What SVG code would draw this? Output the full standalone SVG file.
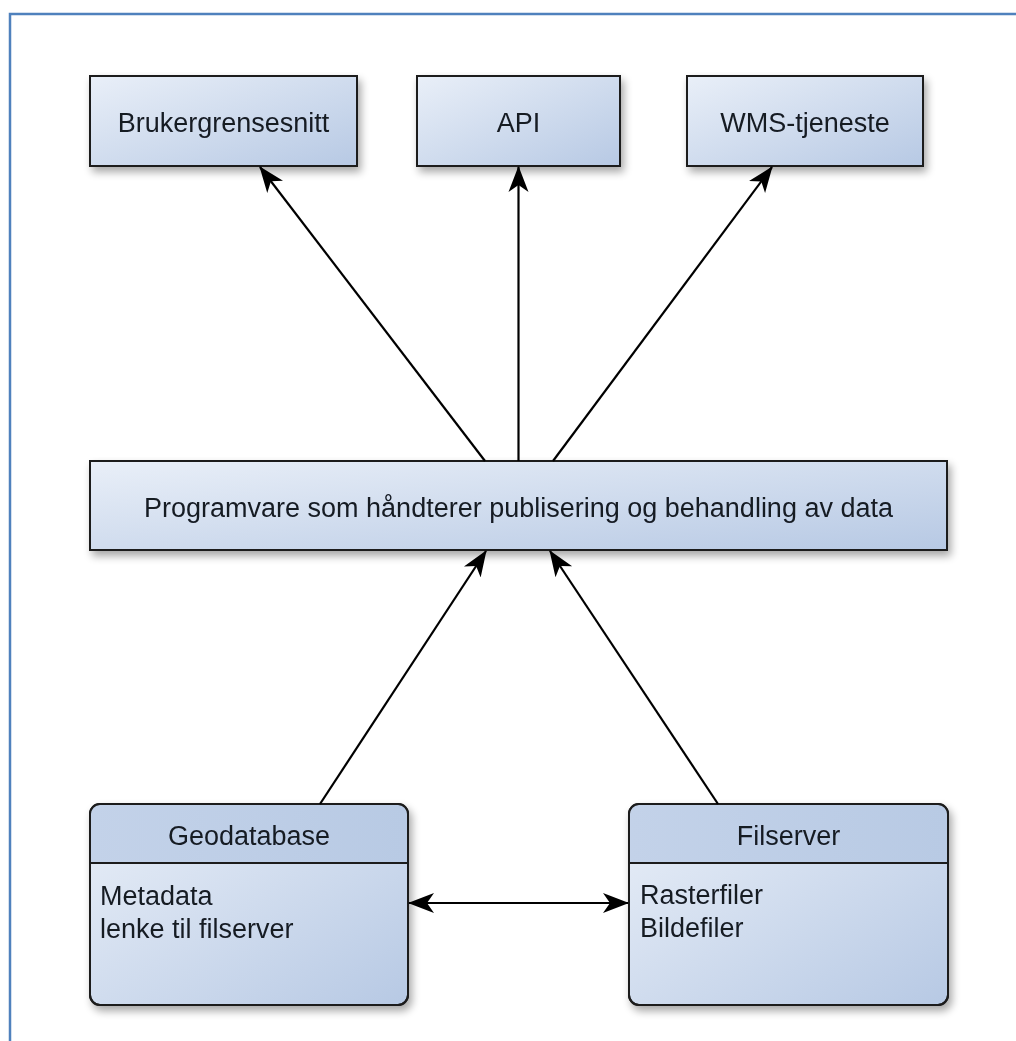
<svg xmlns="http://www.w3.org/2000/svg" width="1016" height="1041" viewBox="0 0 1016 1041">
  <defs>
    <linearGradient id="boxfill" x1="0" y1="0" x2="1" y2="1">
      <stop offset="0" stop-color="#e9eff8"/>
      <stop offset="1" stop-color="#b7c9e4"/>
    </linearGradient>
    <linearGradient id="headfill" x1="0" y1="0" x2="1" y2="0">
      <stop offset="0" stop-color="#c3d2e9"/>
      <stop offset="1" stop-color="#b8cae4"/>
    </linearGradient>
    <filter id="shadow" x="-10%" y="-10%" width="130%" height="140%">
      <feGaussianBlur in="SourceAlpha" stdDeviation="4"/>
      <feOffset dx="3" dy="5" result="b"/>
      <feComponentTransfer><feFuncA type="linear" slope="0.35"/></feComponentTransfer>
      <feMerge><feMergeNode/><feMergeNode in="SourceGraphic"/></feMerge>
    </filter>
    <marker id="arrow" viewBox="0 0 26 22" refX="25" refY="11" markerWidth="26" markerHeight="22" markerUnits="userSpaceOnUse" orient="auto-start-reverse">
      <path d="M0,1 L26,11 L0,21 L7,11 Z" fill="#000"/>
    </marker>
  </defs>
  <style>
    .box { fill: url(#boxfill); stroke: #1c1c1c; stroke-width: 2; }
    .head { fill: url(#headfill); }
    .sep { stroke: #1c1c1c; stroke-width: 2; fill: none; }
    .outline { fill: none; stroke: #1c1c1c; stroke-width: 2; }
    .lbl { font-family: "Liberation Sans", Arial, sans-serif; font-size: 27px; fill: #151a24; }
    .mid { text-anchor: middle; }
    .conn { stroke: #000; stroke-width: 2.2; fill: none; marker-end: url(#arrow); }
  </style>
  <rect width="1016" height="1041" fill="#ffffff"/>
  <path d="M10,1041 L10,14 L1016,14" fill="none" stroke="#4f81bd" stroke-width="2.5"/>

  <g id="brukergrensesnitt" filter="url(#shadow)">
    <rect class="box" x="90" y="76" width="267" height="90"/>
    <text class="lbl mid" x="223.5" y="131.5">Brukergrensesnitt</text>
  </g>
  <g id="api" filter="url(#shadow)">
    <rect class="box" x="417" y="76" width="203" height="90"/>
    <text class="lbl mid" x="518.5" y="131.5">API</text>
  </g>
  <g id="wms" filter="url(#shadow)">
    <rect class="box" x="687" y="76" width="236" height="90"/>
    <text class="lbl mid" x="805" y="131.5">WMS-tjeneste</text>
  </g>
  <g id="programvare" filter="url(#shadow)">
    <rect class="box" x="90" y="461" width="857" height="89"/>
    <text class="lbl mid" x="518.5" y="516.5">Programvare som håndterer publisering og behandling av data</text>
  </g>
  <g id="geodatabase" filter="url(#shadow)">
    <rect class="box" x="90" y="804" width="318" height="201" rx="10" ry="10"/>
    <path class="head" d="M91,863 L91,814 Q91,805 100,805 L398,805 Q407,805 407,814 L407,863 Z"/>
    <rect class="outline" x="90" y="804" width="318" height="201" rx="10" ry="10"/>
    <line class="sep" x1="90" y1="863" x2="408" y2="863"/>
    <text class="lbl mid" x="249" y="845">Geodatabase</text>
    <text class="lbl" x="100" y="905">Metadata</text>
    <text class="lbl" x="100" y="938">lenke til filserver</text>
  </g>
  <g id="filserver" filter="url(#shadow)">
    <rect class="box" x="629" y="804" width="319" height="201" rx="10" ry="10"/>
    <path class="head" d="M630,863 L630,814 Q630,805 639,805 L938,805 Q947,805 947,814 L947,863 Z"/>
    <rect class="outline" x="629" y="804" width="319" height="201" rx="10" ry="10"/>
    <line class="sep" x1="629" y1="863" x2="948" y2="863"/>
    <text class="lbl mid" x="788.5" y="845">Filserver</text>
    <text class="lbl" x="640" y="904">Rasterfiler</text>
    <text class="lbl" x="640" y="937">Bildefiler</text>
  </g>

  <g id="connectors">
    <line class="conn" x1="485" y1="461" x2="260" y2="167"/>
    <line class="conn" x1="518.5" y1="461" x2="518.5" y2="167"/>
    <line class="conn" x1="553" y1="461" x2="772" y2="167"/>
    <line class="conn" x1="320" y1="804" x2="486" y2="551"/>
    <line class="conn" x1="718" y1="804" x2="550" y2="551"/>
    <line class="conn" x1="628" y1="903" x2="409" y2="903" style="marker-start:url(#arrow)"/>
  </g>
</svg>
